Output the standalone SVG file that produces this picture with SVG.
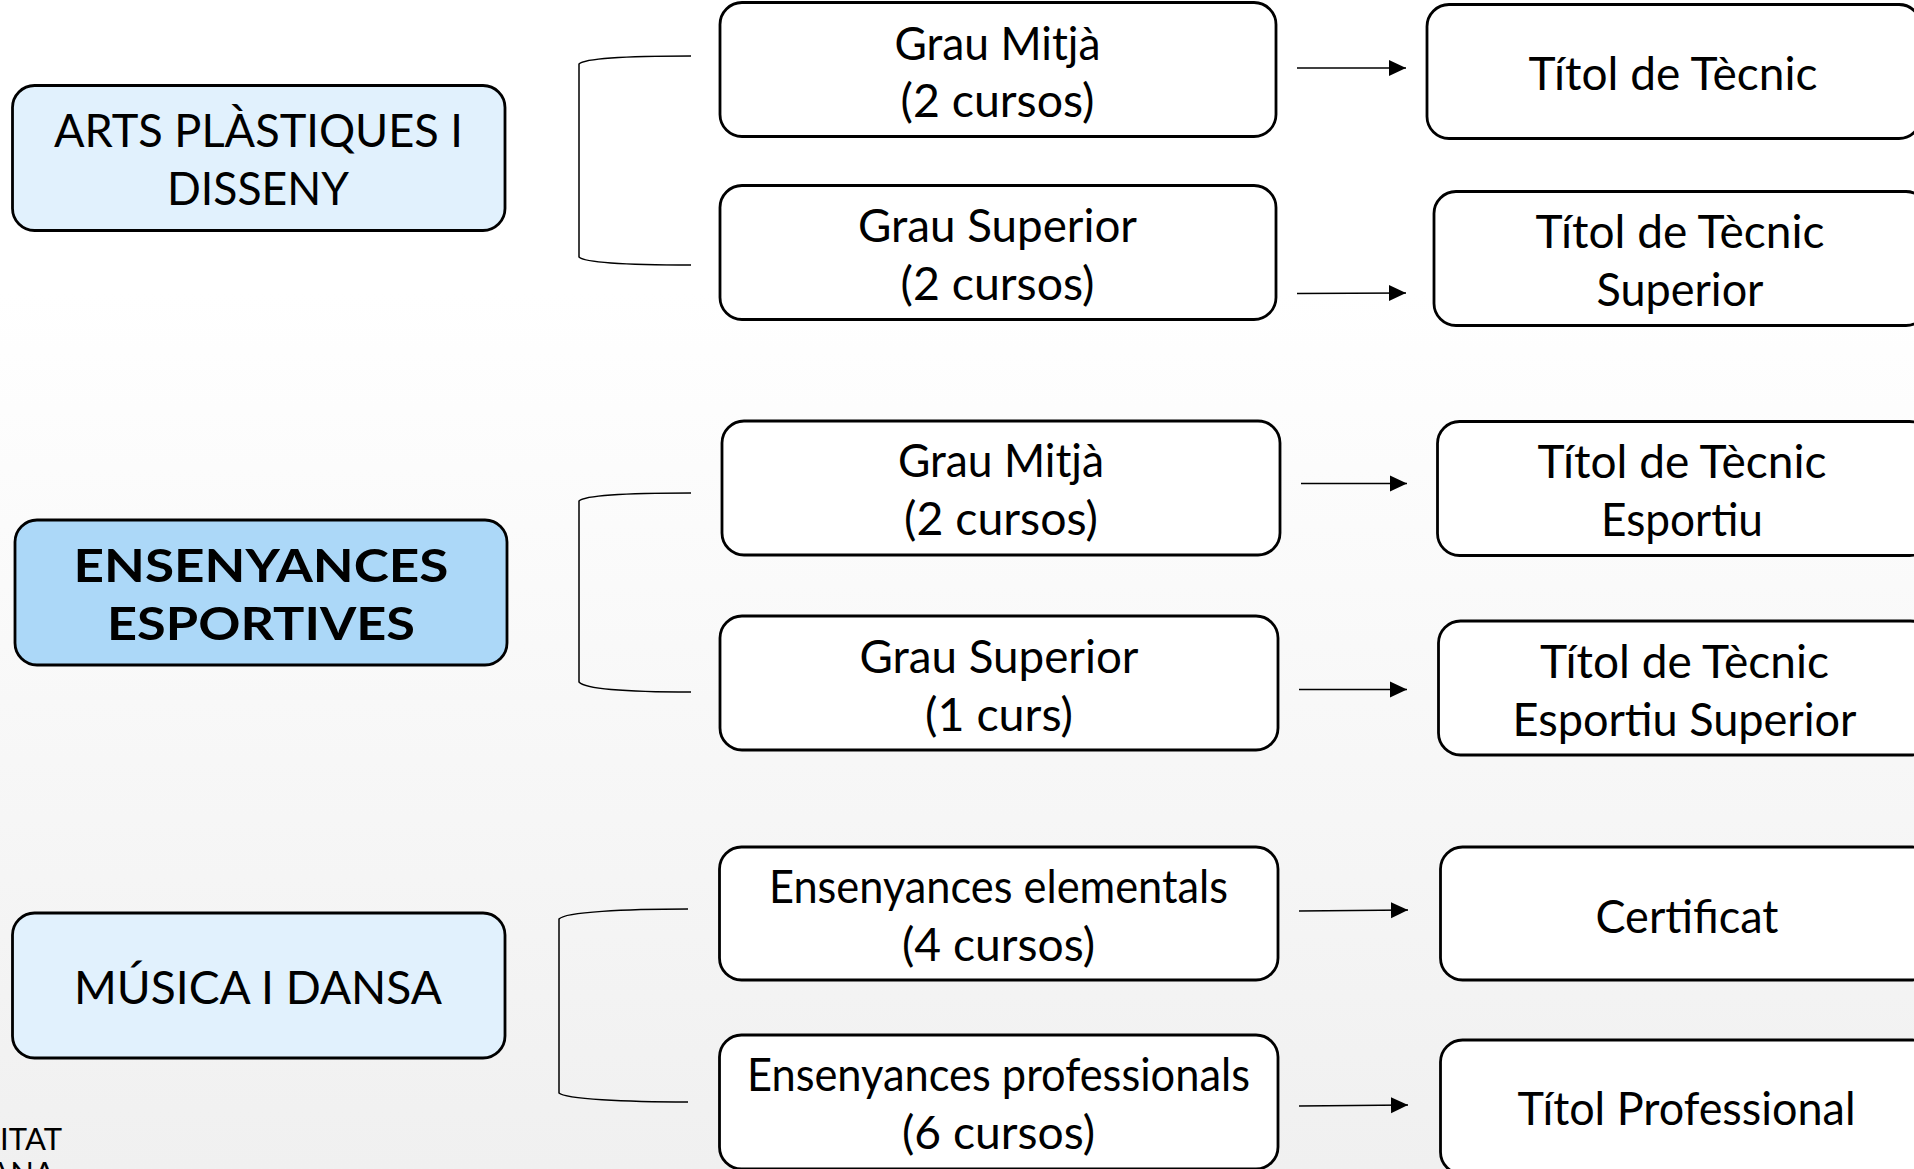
<svg xmlns="http://www.w3.org/2000/svg" width="1914" height="1169" viewBox="0 0 1914 1169">
<style>
text{font-family:Lato,"Liberation Sans",sans-serif;font-size:46px;fill:#000;text-anchor:middle}
.b{font-weight:700}
.logo{font-size:31px;text-anchor:end}
rect{stroke:#000;stroke-width:2.800}
.w{fill:#fff}.l{fill:#e1f1fd}.d{fill:#acd8f8}
#connectors path{fill:none;stroke:#000;stroke-width:1.500}
</style>
<defs>
<linearGradient id="bg" x1="0" y1="0" x2="0" y2="1"><stop offset="0" stop-color="#fff"/><stop offset="0.25" stop-color="#fff"/><stop offset="1" stop-color="#f0f0f0"/></linearGradient>
<marker id="ah" markerUnits="userSpaceOnUse" markerWidth="18" markerHeight="18" refX="17" refY="9" orient="auto"><path d="M0 1L17 9L0 17Z" fill="#000"/></marker>
</defs>
<rect width="1914" height="1169" fill="url(#bg)" style="stroke:none"/>
<g id="connectors">
<path d="M691 56C630 56 585 58 579 64V257C585 263 630 265 691 265"/>
<path d="M691 493C630 493 585 495 579 501V682C585 689 630 692 691 692"/>
<path d="M688 909C625 909 565 912 559 919V1093C565 1099 625 1102 688 1102"/>
<path d="M1297 68H1406" marker-end="url(#ah)"/>
<path d="M1297 293.500L1406 293" marker-end="url(#ah)"/>
<path d="M1301 483.500H1407" marker-end="url(#ah)"/>
<path d="M1299 689.500H1407" marker-end="url(#ah)"/>
<path d="M1299 911L1408 910" marker-end="url(#ah)"/>
<path d="M1299 1106L1408 1105" marker-end="url(#ah)"/>
</g>
<g id="n-arts"><rect class="l" x="12.500" y="85.500" width="492.500" height="145" rx="22"/><text x="258.500" y="147" textLength="409" lengthAdjust="spacingAndGlyphs">ARTS PLÀSTIQUES I</text><text x="258" y="205" textLength="182" lengthAdjust="spacingAndGlyphs">DISSENY</text></g>
<g id="n-esportives"><rect class="d" x="15" y="520" width="492" height="145" rx="22"/><text class="b" x="261" y="581.500" textLength="375" lengthAdjust="spacingAndGlyphs">ENSENYANCES</text><text class="b" x="261" y="639.500" textLength="308" lengthAdjust="spacingAndGlyphs">ESPORTIVES</text></g>
<g id="n-musica"><rect class="l" x="12.500" y="913" width="492.500" height="145" rx="22"/><text x="258" y="1003.500" textLength="368" lengthAdjust="spacingAndGlyphs">MÚSICA I DANSA</text></g>
<g id="n-m1"><rect class="w" x="720" y="2.500" width="556" height="134" rx="22"/><text x="997.500" y="59.500" textLength="206" lengthAdjust="spacingAndGlyphs">Grau Mitjà</text><text x="997.500" y="116.500" textLength="194" lengthAdjust="spacingAndGlyphs">(2 cursos)</text></g>
<g id="n-m2"><rect class="w" x="720" y="185.500" width="556" height="134" rx="22"/><text x="997.500" y="241.500" textLength="279" lengthAdjust="spacingAndGlyphs">Grau Superior</text><text x="997.500" y="299.500" textLength="194" lengthAdjust="spacingAndGlyphs">(2 cursos)</text></g>
<g id="n-m3"><rect class="w" x="722" y="421" width="558" height="134" rx="22"/><text x="1001" y="476.500" textLength="206" lengthAdjust="spacingAndGlyphs">Grau Mitjà</text><text x="1001" y="535" textLength="194" lengthAdjust="spacingAndGlyphs">(2 cursos)</text></g>
<g id="n-m4"><rect class="w" x="720" y="616" width="558" height="134" rx="22"/><text x="999" y="672.500" textLength="279" lengthAdjust="spacingAndGlyphs">Grau Superior</text><text x="999" y="731" textLength="148" lengthAdjust="spacingAndGlyphs">(1 curs)</text></g>
<g id="n-m5"><rect class="w" x="719.500" y="847" width="558.500" height="133" rx="22"/><text x="998.500" y="902.500" textLength="459" lengthAdjust="spacingAndGlyphs">Ensenyances elementals</text><text x="998.500" y="961" textLength="193" lengthAdjust="spacingAndGlyphs">(4 cursos)</text></g>
<g id="n-m6"><rect class="w" x="719.500" y="1035" width="558.500" height="134" rx="22"/><text x="998.500" y="1090.500" textLength="503" lengthAdjust="spacingAndGlyphs">Ensenyances professionals</text><text x="998.500" y="1149" textLength="193" lengthAdjust="spacingAndGlyphs">(6 cursos)</text></g>
<g id="n-r1"><rect class="w" x="1427" y="4.500" width="494" height="134" rx="22"/><text x="1673" y="90" textLength="289" lengthAdjust="spacingAndGlyphs">Títol de Tècnic</text></g>
<g id="n-r2"><rect class="w" x="1434" y="191.500" width="494" height="134" rx="22"/><text x="1680" y="248" textLength="289" lengthAdjust="spacingAndGlyphs">Títol de Tècnic</text><text x="1680" y="305.500" textLength="167" lengthAdjust="spacingAndGlyphs">Superior</text></g>
<g id="n-r3"><rect class="w" x="1437.500" y="421.500" width="494" height="134" rx="22"/><text x="1682" y="477.500" textLength="289" lengthAdjust="spacingAndGlyphs">Títol de Tècnic</text><text x="1682" y="536" textLength="162" lengthAdjust="spacingAndGlyphs">Esportiu</text></g>
<g id="n-r4"><rect class="w" x="1438.500" y="621" width="494" height="134" rx="22"/><text x="1684.500" y="677.500" textLength="289" lengthAdjust="spacingAndGlyphs">Títol de Tècnic</text><text x="1684.500" y="736" textLength="344" lengthAdjust="spacingAndGlyphs">Esportiu Superior</text></g>
<g id="n-r5"><rect class="w" x="1440.500" y="847" width="494" height="133" rx="22"/><text x="1687" y="932.500" textLength="183" lengthAdjust="spacingAndGlyphs">Certificat</text></g>
<g id="n-r6"><rect class="w" x="1440.500" y="1040" width="494" height="134" rx="22"/><text x="1686.500" y="1125" textLength="338" lengthAdjust="spacingAndGlyphs">Títol Professional</text></g>
<text class="logo" x="62" y="1150">LITAT</text>
<text class="logo" x="55" y="1184">ANA</text>
</svg>
